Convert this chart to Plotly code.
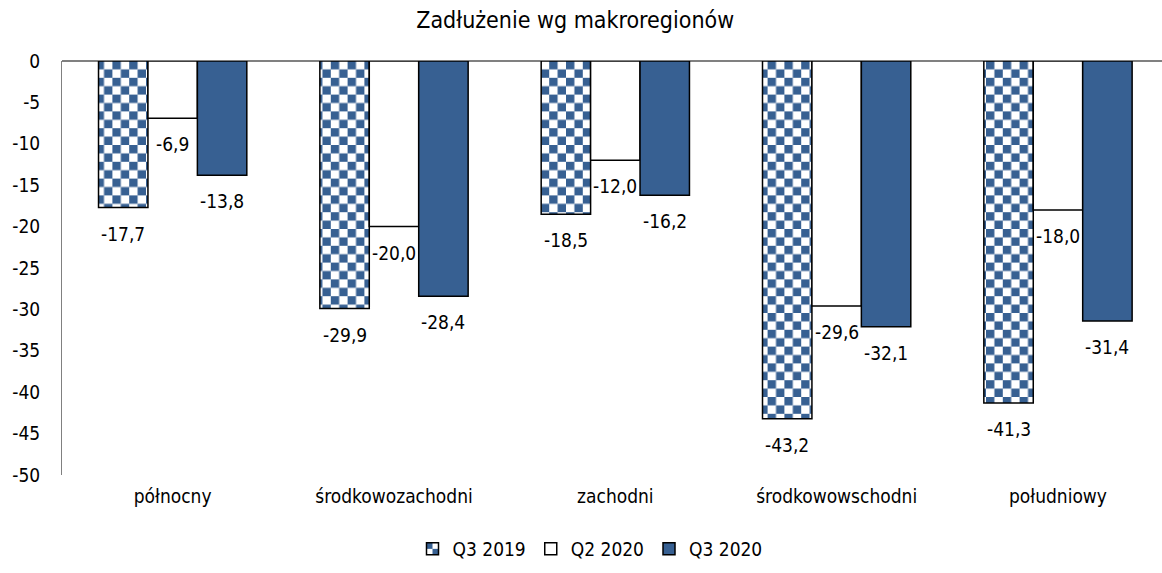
import plotly.graph_objects as go

categories = ["północny", "środkowozachodni", "zachodni", "środkowowschodni", "południowy"]
series_names = ["Q3 2019", "Q2 2020", "Q3 2020"]
q3_2019 = [-17.7, -29.9, -18.5, -43.2, -41.3]
q2_2020 = [-6.9, -20.0, -12.0, -29.6, -18.0]
q3_2020 = [-13.8, -28.4, -16.2, -32.1, -31.4]
y_ticks = list(range(0, -55, -5))

BLUE = "#376092"
FONT = "DejaVu Sans Condensed"
FS = 19

def fmt(v):
    return f"{v:.1f}".replace(".", ",")

series = [q3_2019, q2_2020, q3_2020]
markers = [
    dict(color="white", line=dict(color="black", width=1.5),
         pattern=dict(shape=".", fgcolor=BLUE, bgcolor="white", size=8, solidity=0.5)),
    dict(color="white", line=dict(color="black", width=1.5)),
    dict(color=BLUE, line=dict(color="black", width=1.5)),
]

fig = go.Figure()
for name, vals, mk in zip(series_names, series, markers):
    fig.add_trace(go.Bar(name=name, x=categories, y=vals, marker=mk))

# data labels, placed below each bar end (bar width in px is a style constant)
BAR_PX = 49.4
for i, vals in enumerate(series):
    for cat, v in zip(categories, vals):
        fig.add_annotation(x=cat, y=v, text=fmt(v), showarrow=False,
                           xshift=(i - 1) * BAR_PX, yshift=-26, yanchor="middle",
                           font=dict(family=FONT, size=FS, color="#000000"))

fig.update_layout(
    width=1162, height=573,
    paper_bgcolor="white", plot_bgcolor="white",
    margin=dict(l=62, r=0, t=61, b=98),
    barmode="group", bargap=0.33, bargroupgap=0,
    title=dict(text="Zadłużenie wg makroregionów", x=0.495, xanchor="center", y=1 - 20 / 573, yanchor="middle",
               font=dict(family=FONT, size=23, color="#000000")),
    font=dict(family=FONT, size=FS, color="#000000"),
    legend=dict(orientation="h", x=0.480, xanchor="center", y=-(549 - 475) / 414, yanchor="middle",
                font=dict(family=FONT, size=FS, color="#000000"),
                itemwidth=30, traceorder="normal"),
    showlegend=True,
)
fig.update_xaxes(range=[-0.5, 4.47], showline=False, ticks="", showgrid=False,
                 tickfont=dict(family=FONT, size=FS), ticklabelstandoff=8)
fig.update_yaxes(range=[-50, 0], tickvals=y_ticks, ticktext=[str(v) for v in y_ticks],
                 showgrid=False, showline=True, linecolor="#808080", linewidth=1,
                 zeroline=True, zerolinecolor="#808080", zerolinewidth=1.5,
                 ticks="", tickfont=dict(family=FONT, size=FS), ticklabelstandoff=17)

post = """
document.body.style.margin = '0';
document.body.style.padding = '0';
var gd = document.getElementById('{plot_id}');
function checker(){
  var pats = gd.querySelectorAll('pattern');
  pats.forEach(function(p){
    var s = 8.4;
    p.setAttribute('width', 2*s); p.setAttribute('height', 2*s);
    p.setAttribute('patternUnits', 'userSpaceOnUse');
    while (p.firstChild) p.removeChild(p.firstChild);
    var ns = 'http://www.w3.org/2000/svg';
    var r0 = document.createElementNS(ns, 'rect');
    r0.setAttribute('x',0); r0.setAttribute('y',0); r0.setAttribute('width',2*s); r0.setAttribute('height',2*s);
    r0.setAttribute('fill','white'); p.appendChild(r0);
    [[0,0],[s,s]].forEach(function(c){
      var r = document.createElementNS(ns, 'rect');
      r.setAttribute('x',c[0]); r.setAttribute('y',c[1]); r.setAttribute('width',s); r.setAttribute('height',s);
      r.setAttribute('fill','%s'); p.appendChild(r);
    });
  });
}
checker();
""" % BLUE

fig.write_html("out.html", post_script=post, config={"displayModeBar": False})
